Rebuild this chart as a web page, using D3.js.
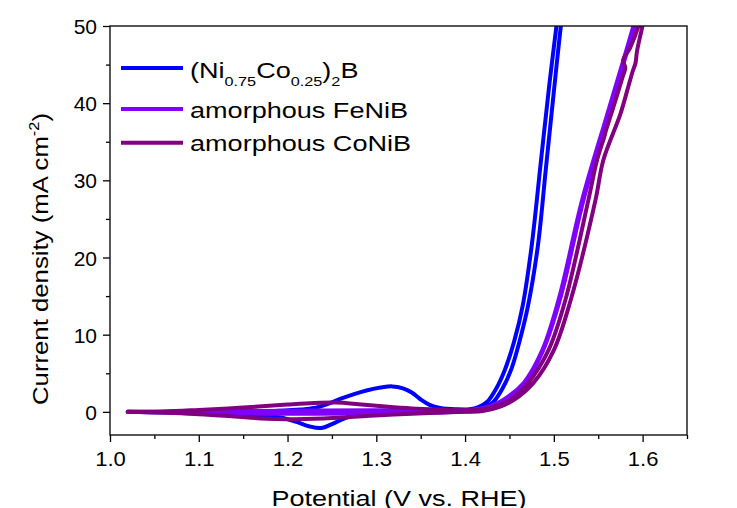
<!DOCTYPE html>
<html>
<head>
<meta charset="utf-8">
<script src="https://cdn.jsdelivr.net/npm/d3@7"></script>
<style>
  body { margin: 0; background: #fff; }
  text { font-family: "Liberation Sans", Arial, sans-serif; fill: #000; }
</style>
</head>
<body>
<svg id="chart" width="737" height="508"></svg>
<script>
// x = potential (V vs RHE), y = current density (mA cm-2); each series is a full CV loop
const nicoV = [1.02, 1.08, 1.14, 1.19, 1.215, 1.23, 1.245, 1.26, 1.275, 1.29, 1.305, 1.318, 1.33, 1.34, 1.35, 1.36, 1.372, 1.39, 1.405, 1.415, 1.425, 1.435, 1.445, 1.455, 1.465, 1.475, 1.485, 1.495, 1.504, 1.507,
               1.513, 1.509, 1.5, 1.491, 1.482, 1.471, 1.461, 1.452, 1.442, 1.432, 1.422, 1.41, 1.39, 1.36, 1.33, 1.30, 1.28, 1.265, 1.25, 1.238, 1.225, 1.21, 1.195, 1.17, 1.14, 1.10, 1.06, 1.02]
const nicoJ = [0, 0, 0.05, 0.15, 0.3, 0.5, 1.0, 1.7, 2.3, 2.8, 3.15, 3.3, 3.05, 2.5, 1.6, 0.9, 0.5, 0.33, 0.33, 0.6, 1.3, 3.0, 5.5, 9.0, 13.8, 21.5, 32, 42.5, 51, 54,
               54, 51, 41.5, 31.5, 21.5, 13.8, 9.0, 5.5, 3.0, 1.3, 0.55, 0.3, 0.15, 0.05, -0.05, -0.15, -0.35, -0.8, -1.6, -2.1, -1.9, -1.3, -0.8, -0.45, -0.3, -0.2, -0.1, 0]

const fenibV = [1.02, 1.10, 1.20, 1.30, 1.38, 1.41, 1.428, 1.443, 1.466, 1.487, 1.506, 1.532, 1.560, 1.5896, 1.594,
                1.596, 1.591, 1.5615, 1.5335, 1.5075, 1.488, 1.4675, 1.4445, 1.43, 1.41, 1.38, 1.30, 1.20, 1.10, 1.02]
const fenibJ = [0, 0.05, 0.15, 0.2, 0.2, 0.3, 0.75, 1.55, 3.75, 8.0, 14.8, 27.5, 38.5, 50, 52,
                52, 50, 38.5, 27.5, 14.8, 8.0, 3.75, 1.55, 0.6, 0.15, -0.05, -0.2, -0.25, -0.15, 0]

const conibV = [1.02, 1.06, 1.10, 1.15, 1.20, 1.23, 1.255, 1.28, 1.31, 1.34, 1.37, 1.40, 1.42, 1.436, 1.451, 1.471, 1.494, 1.513, 1.539, 1.5486, 1.5567, 1.5588, 1.5657, 1.5775, 1.5805, 1.578, 1.586, 1.5953, 1.599,
                1.602, 1.5998, 1.5965, 1.5935, 1.592, 1.589, 1.584, 1.575, 1.5557, 1.547, 1.519, 1.500, 1.477, 1.455, 1.438, 1.42, 1.40, 1.36, 1.32, 1.28, 1.24, 1.20, 1.17, 1.14, 1.10, 1.06, 1.02]
const conibJ = [0, 0.05, 0.25, 0.55, 0.95, 1.15, 1.2, 1.0, 0.7, 0.45, 0.3, 0.2, 0.35, 0.8, 1.55, 3.75, 8.0, 14.5, 27.5, 32.6, 35.6, 36.5, 39, 43.4, 44.6, 45.5, 47.2, 50, 52,
                52, 50, 48.3, 46.6, 45.2, 44.2, 42.2, 38.6, 32.6, 27.5, 14.5, 8.0, 3.75, 1.55, 0.6, 0.1, 0.0, -0.15, -0.35, -0.6, -0.85, -0.95, -0.85, -0.6, -0.3, -0.1, 0]

const seriesNames = ["nico", "fenib", "conib"]
const seriesColors = ["#0000ff", "#8000ff", "#800080"]
const xMajor = [1.0, 1.1, 1.2, 1.3, 1.4, 1.5, 1.6]
const xMinor = [1.05, 1.15, 1.25, 1.35, 1.45, 1.55, 1.65]
const yMajor = [0, 10, 20, 30, 40, 50]
const yMinor = [5, 15, 25, 35, 45]

const svg = d3.select("#chart")
const plotL = 110, plotR = 687, plotT = 26, plotB = 435

const x = d3.scaleLinear().domain([1.0, 1.65]).range([plotL, plotR])
const y = d3.scaleLinear().domain([-3, 50]).range([plotB, plotT])

svg.append("clipPath").attr("id", "plotclip")
   .append("rect").attr("x", plotL).attr("y", plotT).attr("width", plotR - plotL).attr("height", plotB - plotT)

const curves = [
  { v: nicoV, j: nicoJ },
  { v: fenibV, j: fenibJ },
  { v: conibV, j: conibJ }
]

const line = d3.line()
  .x(d => x(d[0]))
  .y(d => y(d[1]))
  .curve(d3.curveCatmullRom.alpha(0.5))

const plot = svg.append("g").attr("clip-path", "url(#plotclip)")
curves.forEach((c, i) => {
  const pts = c.v.map((v, k) => [v, c.j[k]])
  plot.append("path")
      .attr("d", line(pts))
      .attr("fill", "none")
      .attr("stroke", seriesColors[i])
      .attr("stroke-width", 4)
      .attr("stroke-linejoin", "round")
      .attr("stroke-linecap", "round")
})

// axes
const xAxis = svg.append("g").attr("transform", `translate(0,${plotB})`)
  .call(d3.axisBottom(x).tickValues(xMajor).tickSize(7).tickFormat(d3.format(".1f")))
svg.append("g").attr("transform", `translate(0,${plotB})`)
  .call(d3.axisBottom(x).tickValues(xMinor).tickSize(4).tickFormat(""))
const yAxis = svg.append("g").attr("transform", `translate(${plotL},0)`)
  .call(d3.axisLeft(y).tickValues(yMajor).tickSize(7))
svg.append("g").attr("transform", `translate(${plotL},0)`)
  .call(d3.axisLeft(y).tickValues(yMinor).tickSize(4).tickFormat(""))

svg.selectAll(".domain").remove()
svg.selectAll(".tick line").attr("stroke", "#000").attr("stroke-width", 1.3)

xAxis.selectAll("text")
  .attr("y", 31.5).attr("dy", 0)
  .attr("transform", "scale(1.05,1)")
  .style("font-size", "21px").style("font-family", "Liberation Sans, Arial, sans-serif")
yAxis.selectAll("text")
  .attr("x", -13).attr("dy", 0).attr("y", 7.5)
  .style("font-size", "21px").style("font-family", "Liberation Sans, Arial, sans-serif")

// frame
svg.append("rect")
   .attr("x", plotL).attr("y", plotT).attr("width", plotR - plotL).attr("height", plotB - plotT)
   .attr("fill", "none").attr("stroke", "#111").attr("stroke-width", 1.4)

// axis titles
svg.append("text")
   .attr("transform", "translate(399,505.5) scale(1.2,1)")
   .attr("text-anchor", "middle")
   .style("font-size", "22.5px")
   .text("Potential (V vs. RHE)")

const yl = svg.append("text")
   .attr("transform", "translate(47.5,259) rotate(-90) scale(1.17,1)")
   .attr("text-anchor", "middle")
   .style("font-size", "22px")
yl.append("tspan").text("Current density (mA cm")
yl.append("tspan").attr("dy", -9).style("font-size", "14px").text("-2")
yl.append("tspan").attr("dy", 9).text(")")

// legend
const legY = [68, 109, 142.7]
const legBase = [78, 117.5, 150.5]
const leg = svg.append("g")
seriesNames.forEach((n, i) => {
  leg.append("line")
     .attr("x1", 121).attr("x2", 183).attr("y1", legY[i]).attr("y2", legY[i])
     .attr("stroke", seriesColors[i]).attr("stroke-width", 4)
})

const t0 = leg.append("text")
   .attr("transform", `translate(190,${legBase[0]}) scale(1.23,1)`)
   .style("font-size", "22px")
t0.append("tspan").text("(Ni")
t0.append("tspan").attr("dy", 8).style("font-size", "13.2px").text("0.75")
t0.append("tspan").attr("dy", -8).text("Co")
t0.append("tspan").attr("dy", 8).style("font-size", "13.2px").text("0.25")
t0.append("tspan").attr("dy", -8).text(")")
t0.append("tspan").attr("dy", 8).style("font-size", "13.2px").text("2")
t0.append("tspan").attr("dy", -8).text("B")

leg.append("text")
   .attr("transform", `translate(190,${legBase[1]}) scale(1.23,1)`)
   .style("font-size", "22px")
   .text("amorphous FeNiB")
leg.append("text")
   .attr("transform", `translate(190,${legBase[2]}) scale(1.23,1)`)
   .style("font-size", "22px")
   .text("amorphous CoNiB")
</script>
</body>
</html>
